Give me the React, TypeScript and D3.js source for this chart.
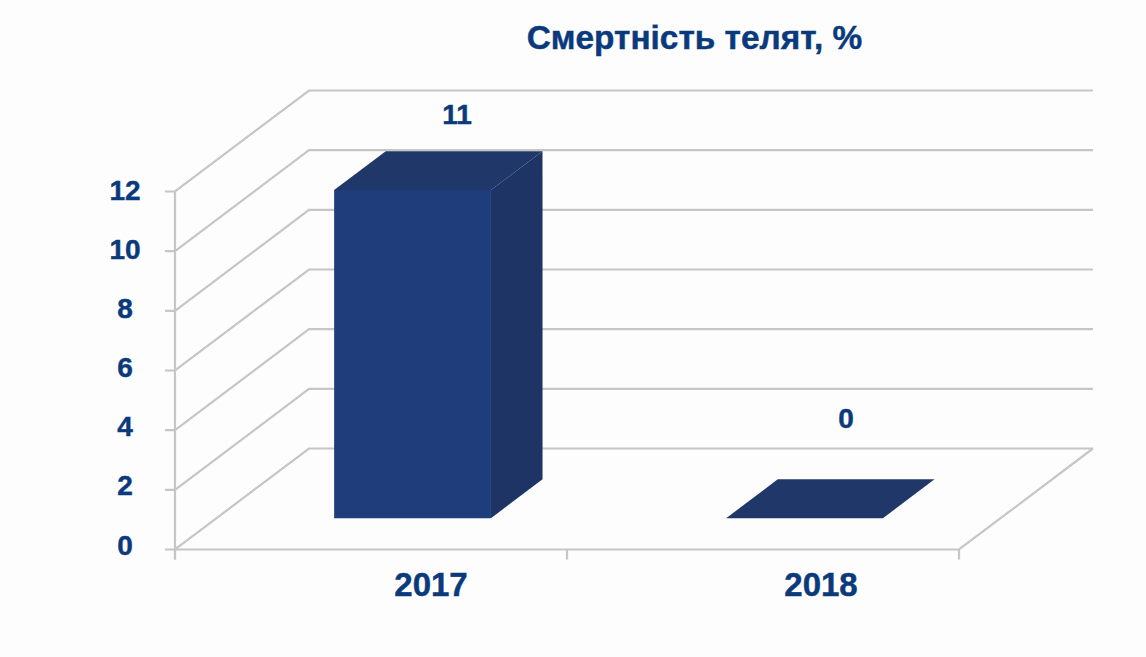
import React from "react";
import * as d3 from "d3";

const categories = ["2017", "2018"];
const values = [11, 0];
const valueLabels = ["11", "0"];
const yTicks = [0, 2, 4, 6, 8, 10, 12];
const titleText = "Смертність телят, %";

const W = 1146, H = 657;
const NAVY = "#0a3a7c";
const GRID = "#c6c6c6";

const x = d3.scaleBand<string>().domain(categories).range([175, 959]).paddingInner(0.6).paddingOuter(0.3);
const y = d3.scaleLinear().domain([0, 12]).range([549.5, 191.5]);
// tick label baselines run on a slightly tighter spacing than the gridlines
const yLabel = d3.scaleLinear().domain([0, 12]).range([554.5, 199.5]);
// depth axis: 0 = front plane, 1 = back wall
const zx = d3.scaleLinear().domain([0, 1]).range([0, 134]);
const zy = d3.scaleLinear().domain([0, 1]).range([0, -101]);
const BAR_Z0 = 0.31, BAR_Z1 = 0.695;

const pt = (xv: number, val: number, z: number): [number, number] => [xv + zx(z), y(val) + zy(z)];
const line = d3.line();
const poly = (pts: [number, number][]) => line(pts) + "Z";
const heavy = { stroke: NAVY, strokeWidth: 0.45 };

export default function App() {
  const x0 = 175, x1 = 959;
  return (
    <svg width={W} height={H} viewBox={`0 0 ${W} ${H}`}
      style={{ position: "absolute", left: 0, top: 0, background: "#fdfdfd", fontFamily: "'Liberation Sans', Arial, sans-serif", fontWeight: 700 }}>
      {yTicks.map(t => (
        <path key={t} fill="none" stroke={GRID} strokeWidth={2.2}
          d={line([[x0 - 10, y(t)], pt(x0, t, 0), pt(x0, t, 1), pt(x1, t, 1)]) as string} />
      ))}
      <path fill="none" stroke={GRID} strokeWidth={2.2}
        d={line([pt(x0, 0, 0), pt(x1, 0, 0), pt(x1, 0, 1)]) as string} />
      <line x1={x0} x2={x0} y1={y(12)} y2={y(0) + 10} stroke={GRID} strokeWidth={2.2} />
      {[x0, (x0 + x1) / 2, x1].map(v => (
        <line key={v} x1={v} x2={v} y1={y(0)} y2={y(0) + 10} stroke={GRID} strokeWidth={2.2} />
      ))}
      {categories.map((c, i) => {
        const l = x(c) as number, r = l + x.bandwidth(), v = values[i];
        return (
          <g key={c}>
            {v > 0 && <path fill="#1f3d7a" d={poly([pt(l, 0, BAR_Z0), pt(r, 0, BAR_Z0), pt(r, v, BAR_Z0), pt(l, v, BAR_Z0)])} />}
            {v > 0 && <path fill="#1e3465" d={poly([pt(r, 0, BAR_Z0), pt(r, 0, BAR_Z1), pt(r, v, BAR_Z1), pt(r, v, BAR_Z0)])} />}
            <path fill="#1f3769" d={poly([pt(l, v, BAR_Z0), pt(r, v, BAR_Z0), pt(r, v, BAR_Z1), pt(l, v, BAR_Z1)])} />
            <text x={(l + r) / 2 + (v > 0 ? 86 : 83)} y={pt(l, v, BAR_Z1)[1] - (v > 0 ? 27 : 51)} textAnchor="middle" fontSize={28} fill={NAVY} {...heavy}>{valueLabels[i]}</text>
            <text x={(l + r) / 2 + (i === 0 ? 60 : 58)} y={595.5} textAnchor="middle" fontSize={33} fill={NAVY} {...heavy}>{c}</text>
          </g>
        );
      })}
      {yTicks.map(t => (
        <text key={t} x={125} y={yLabel(t)} textAnchor="middle" fontSize={28} fill={NAVY} {...heavy}>{t}</text>
      ))}
      <text x={694.5} y={49} textAnchor="middle" fontSize={33.4} fill={NAVY} {...heavy}>{titleText}</text>
    </svg>
  );
}
